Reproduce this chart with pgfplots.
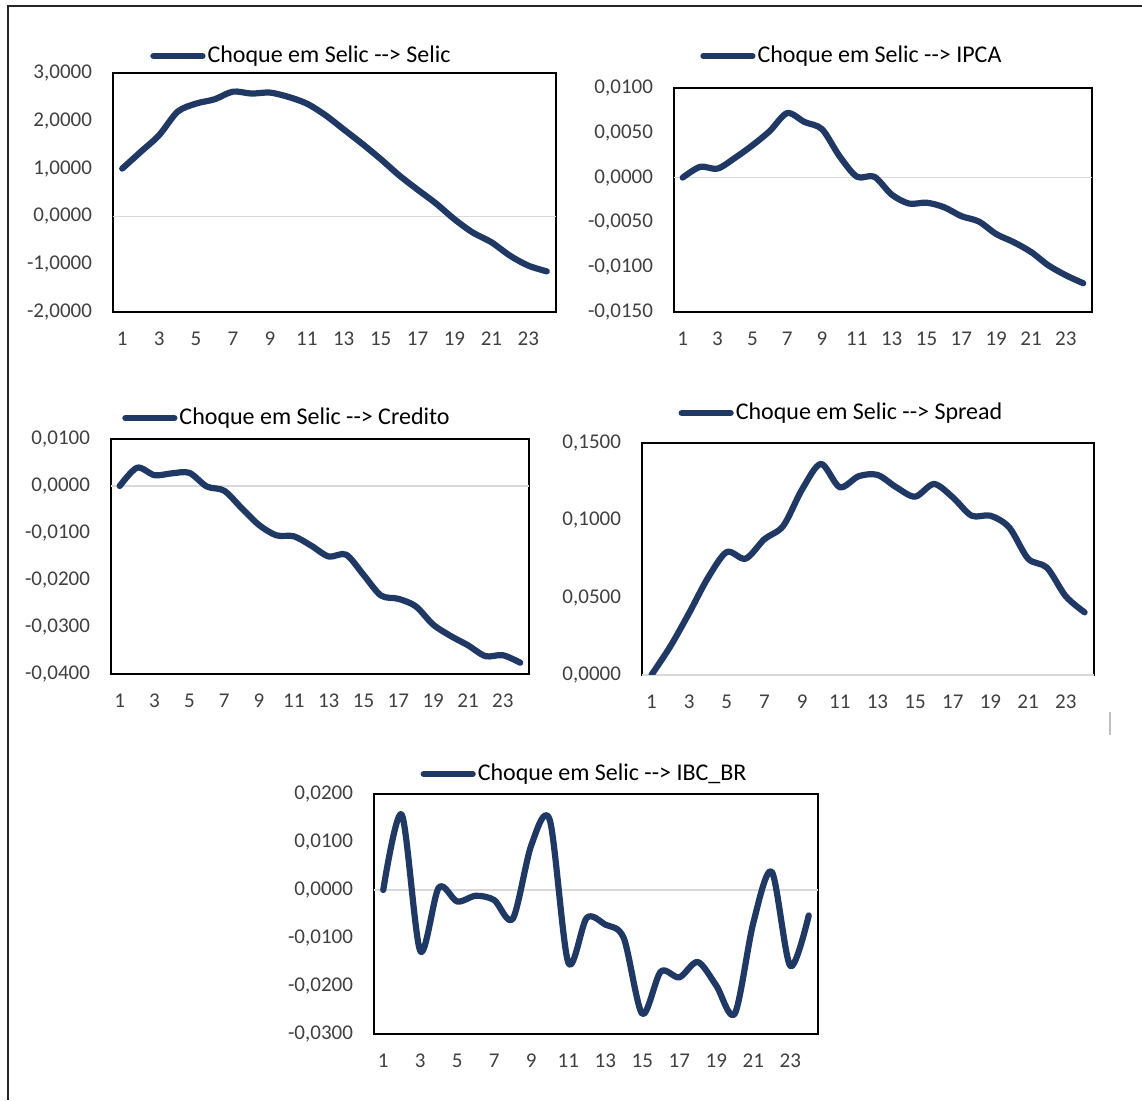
\documentclass[border=0pt]{standalone}
\usepackage{fontspec}
\setmainfont{Carlito}
\usepackage{pgfplots}
\pgfplotsset{compat=1.18}

\definecolor{navy}{RGB}{31,56,100}
\definecolor{tickgray}{RGB}{64,64,64}

\newcommand{\arr}{-{}-{}>}

\pgfplotsset{
  irf/.style={
    scale only axis,
    anchor=south west,
    xmin=0.5, xmax=24.5,
    xtick={1,3,...,23},
    major tick length=0pt,
    scaled y ticks=false,
    axis line style={black, line width=0.75pt},
    tick label style={font=\fontsize{10.5}{12}\selectfont, text=tickgray},
    /pgf/number format/assume math mode=true,
    yticklabel style={xshift=-7pt, /pgf/number format/fixed, /pgf/number format/fixed zerofill,
      /pgf/number format/precision=4, /pgf/number format/use comma},
    xticklabel style={yshift=-6.5pt, /pgf/number format/fixed, /pgf/number format/precision=0},
    extra y ticks={0},
    extra y tick labels={},
    extra y tick style={grid=major, major grid style={black!15, line width=0.7pt}},
    legend style={draw=none, fill=none, inner sep=0pt, anchor=west,
      font=\fontsize{12}{14}\selectfont, nodes={inner sep=1pt}},
    legend image code/.code={\draw[#1] (1.5pt,0pt) -- (26pt,0pt);},
  },
  irfline/.style={navy, line width=3.1pt, line cap=round, line join=round, smooth, mark=none},
}

\begin{document}
\begin{tikzpicture}
\useasboundingbox (0,0) rectangle (571pt,550pt);
\fill[white] (0,0) rectangle (571pt,550pt);
\draw[black!85, line width=1.1pt] (4pt,0pt) -- (4pt,547pt) -- (571pt,547pt);
\draw[black!25, line width=0.8pt] (555pt,194pt) -- (555pt,182.5pt);

% Selic
\begin{axis}[irf, at={(56.5pt,394pt)}, width=221.5pt, height=119.5pt,
    ymin=-2, ymax=3, ytick={-2,-1,0,1,2,3},
    legend style={at={(0.0835,1.071)}}]
\addplot[irfline] coordinates {
(1,1.00) (2,1.35) (3,1.70) (4,2.19) (5,2.36) (6,2.45) (7,2.61) (8,2.57)
(9,2.59) (10,2.50) (11,2.36) (12,2.12) (13,1.82) (14,1.52) (15,1.20) (16,0.86)
(17,0.56) (18,0.27) (19,-0.06) (20,-0.34) (21,-0.54) (22,-0.82) (23,-1.03) (24,-1.15)};
\addlegendentry{Choque em Selic \arr{} Selic}
\end{axis}

% IPCA
\begin{axis}[irf, at={(337pt,394pt)}, width=209pt, height=112pt,
    ymin=-0.015, ymax=0.01, ytick={-0.015,-0.01,-0.005,0,0.005,0.01},
    legend style={at={(0.062,1.143)}}]
\addplot[irfline] coordinates {
(1,0.0000) (2,0.0012) (3,0.0010) (4,0.0022) (5,0.0036) (6,0.0052) (7,0.0072) (8,0.0062)
(9,0.0054) (10,0.0024) (11,0.0001) (12,0.0001) (13,-0.0019) (14,-0.0029) (15,-0.0028) (16,-0.0033)
(17,-0.0043) (18,-0.0049) (19,-0.0063) (20,-0.0072) (21,-0.0083) (22,-0.0098) (23,-0.0109) (24,-0.0118)};
\addlegendentry{Choque em Selic \arr{} IPCA}
\end{axis}

% Credito
\begin{axis}[irf, at={(55.5pt,213pt)}, width=209pt, height=117.5pt,
    ymin=-0.04, ymax=0.01, ytick={-0.04,-0.03,-0.02,-0.01,0,0.01},
    legend style={at={(0.026,1.089)}}]
\addplot[irfline] coordinates {
(1,0.0000) (2,0.0039) (3,0.0023) (4,0.0027) (5,0.0028) (6,-0.0001) (7,-0.0010) (8,-0.0047)
(9,-0.0083) (10,-0.0105) (11,-0.0107) (12,-0.0127) (13,-0.0150) (14,-0.0146) (15,-0.0189) (16,-0.0233)
(17,-0.0240) (18,-0.0256) (19,-0.0295) (20,-0.0319) (21,-0.0339) (22,-0.0362) (23,-0.0360) (24,-0.0376)};
\addlegendentry{Choque em Selic \arr{} Credito}
\end{axis}

% Spread
\begin{axis}[irf, at={(321pt,212.5pt)}, width=226pt, height=116pt,
    ymin=0, ymax=0.15, ytick={0,0.05,0.1,0.15},
    legend style={at={(0.080,1.129)}}]
\addplot[irfline] coordinates {
(1,0.0000) (2,0.0184) (3,0.0400) (4,0.0628) (5,0.0795) (6,0.0752) (7,0.0878) (8,0.0964)
(9,0.1200) (10,0.1365) (11,0.1214) (12,0.1285) (13,0.1294) (14,0.1214) (15,0.1153) (16,0.1235)
(17,0.1149) (18,0.1030) (19,0.1030) (20,0.0954) (21,0.0752) (22,0.0694) (23,0.0509) (24,0.0405)};
\addlegendentry{Choque em Selic \arr{} Spread}
\end{axis}

% IBC_BR
\begin{axis}[irf, at={(187pt,33pt)}, width=222pt, height=120pt,
    ymin=-0.03, ymax=0.02, ytick={-0.03,-0.02,-0.01,0,0.01,0.02},
    legend style={at={(0.104,1.083)}}]
\addplot[irfline] coordinates {
(1,0.0000) (2,0.0157) (3,-0.0127) (4,0.0005) (5,-0.0024) (6,-0.0012) (7,-0.0021) (8,-0.0060)
(9,0.0093) (10,0.0146) (11,-0.0151) (12,-0.0058) (13,-0.0072) (14,-0.0100) (15,-0.0258) (16,-0.0170)
(17,-0.0182) (18,-0.0150) (19,-0.0199) (20,-0.0258) (21,-0.0069) (22,0.0038) (23,-0.0158) (24,-0.0053)};
\addlegendentry{Choque em Selic \arr{} IBC\_BR}
\end{axis}
\end{tikzpicture}
\end{document}
